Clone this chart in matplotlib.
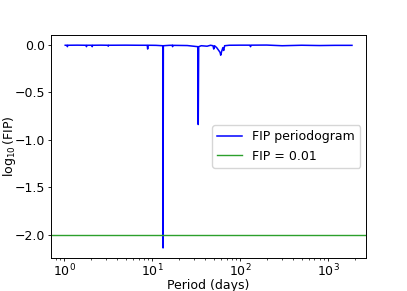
import numpy as np
import matplotlib
matplotlib.use('Agg')
import matplotlib.pyplot as plt

plt.rcParams['font.size'] = 9
plt.rcParams['axes.linewidth'] = 0.7

# periodogram: period (days), log10(FIP)
period = [1.02, 1.07, 1.08, 1.09, 1.4, 1.76, 1.78, 1.80, 2.05, 2.07, 2.09,
          2.6, 3.12, 3.15, 3.18, 5.0, 7.0, 8.75, 8.85, 8.95, 11.0, 13.15,
          13.25, 13.35, 15.5, 16.9, 17.0, 17.1, 25.0, 32.9, 33.3, 33.7,
          36.0, 42.0, 46.0, 49.0, 50.0, 51.0, 54.0, 57.0, 59.0, 60.0, 61.5,
          63.5, 64.9, 66.5, 75.0, 100.0, 129.0, 131.0, 133.0, 200.0, 300.0,
          500.0, 800.0, 1200.0, 1870.0]
log_fip = [-0.005, -0.005, -0.02, -0.005, -0.004, -0.005, -0.02, -0.005,
           -0.005, -0.02, -0.005, -0.004, -0.005, -0.015, -0.005, -0.004,
           -0.005, -0.005, -0.045, -0.005, -0.006, -0.01, -2.14, -0.01,
           -0.006, -0.005, -0.02, -0.006, -0.008, -0.02, -0.84, -0.02,
           -0.01, -0.015, -0.005, -0.01, -0.045, -0.01, -0.03, -0.06, -0.08,
           -0.11, -0.07, -0.03, -0.06, -0.01, -0.005, -0.004, -0.004, -0.02,
           -0.004, -0.003, -0.01, -0.005, -0.008, -0.006, -0.006]
fip_level = 0.01

fig, ax = plt.subplots(figsize=(4.07, 2.91), dpi=100)
fig.subplots_adjust(left=0.125, right=0.9, top=0.88, bottom=0.113)
ax.plot(period, log_fip, color='blue', lw=1.1, label='FIP periodogram')
ax.axhline(np.log10(fip_level), color='tab:green', lw=1.0, label='FIP = 0.01')
ax.set_xscale('log')
ax.tick_params(length=2, width=0.6, pad=2)
ax.tick_params(axis='x', pad=1.2)
ax.tick_params(which='minor', length=1.2, width=0.5)
ax.set_xlabel('Period (days)')
ax.set_ylabel(r'$\log_{10}$(FIP)')
ax.xaxis.set_label_coords(0.5, -0.092)
ax.yaxis.set_label_coords(-0.105, 0.5)
ax.legend(loc='center right')
fig.savefig('out.png')
